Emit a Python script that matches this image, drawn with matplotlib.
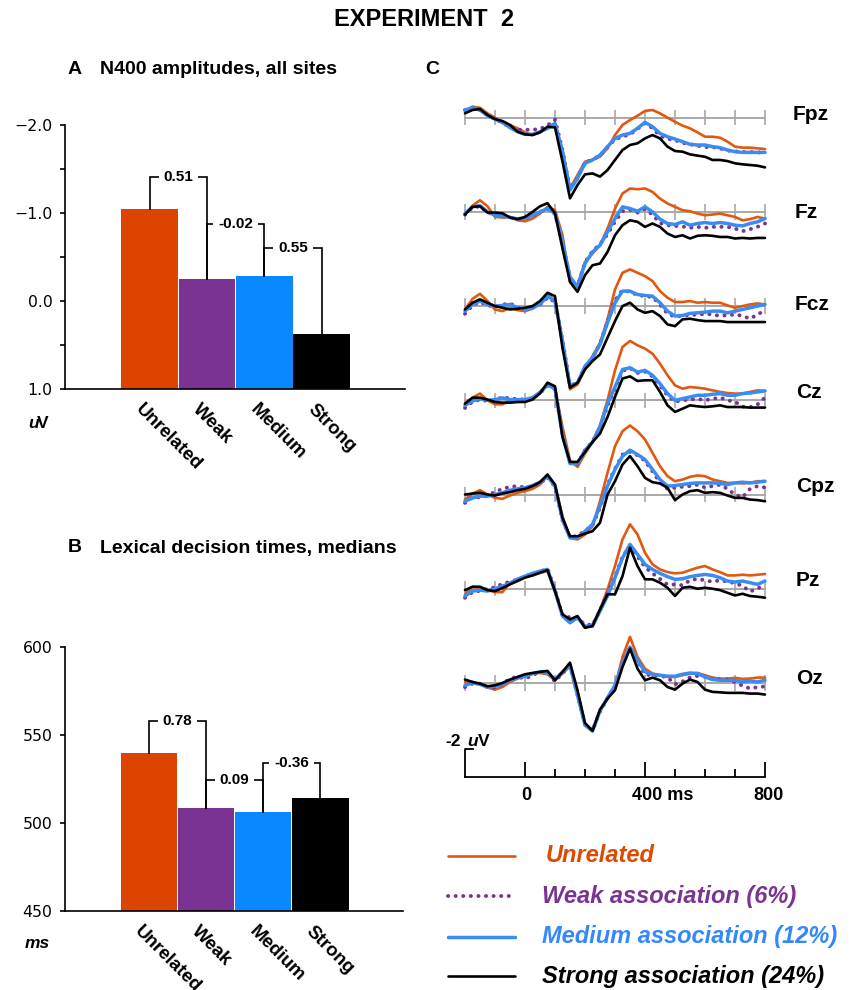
import matplotlib
matplotlib.use("Agg")
import matplotlib.pyplot as plt
from matplotlib.lines import Line2D
import numpy as np

plt.rcParams["font.family"] = ["Liberation Sans", "DejaVu Sans"]

# ---- panel A and B: bar data
CONDITIONS = ["Unrelated", "Weak", "Medium", "Strong"]
N400_AMP = [-1.05, -0.25, -0.28, 0.37]          # uV, plotted negative up
N400_DIFFS = ["0.51", "-0.02", "0.55"]
N400_TICKS = [-2.0, -1.0, 0.0, 1.0]
N400_TICK_LABELS = ["\u22122.0", "\u22121.0", "0.0", "1.0"]
RT_MEDIANS = [540, 508.5, 506, 514]             # ms
RT_DIFFS = ["0.78", "0.09", "-0.36"]
RT_TICKS = [450, 500, 550, 600]

# ---- panel C: ERP traces (uV, positive = drawn downward), sampled every 25 ms
TIMES = list(range(-200, 801, 25))
SITES = ["Fpz", "Fz", "Fcz", "Cz", "Cpz", "Pz", "Oz"]

FPZ_UNREL = [-0.48, -0.79, -0.71, -0.31, 0.0, 0.40, 0.52, 0.76, 1.05, 1.24, 1.05, 0.76, 0.52,
             2.30, 5.05, 4.10, 3.14, 3.00, 2.79, 2.19, 1.24, 0.52, 0.17, -0.14, -0.48,
             -0.55, -0.31, 0.0, 0.29, 0.57, 0.76, 1.05, 1.36, 1.36, 1.43, 1.71, 2.07, 2.14, 2.14, 2.19, 2.24]
FPZ_WEAK = [-0.55, -0.71, -0.55, -0.19, 0.10, 0.36, 0.71, 0.86, 0.86, 0.86, 0.81, 0.55, 0.14,
            2.30, 5.10, 4.30, 3.20, 3.00, 2.70, 2.10, 1.55, 1.35, 1.20, 0.80, 0.40,
            0.75, 1.30, 1.50, 1.60, 1.80, 1.90, 2.00, 2.10, 2.10, 2.20, 2.35, 2.40, 2.45, 2.45, 2.48, 2.50]
FPZ_MED = [-0.55, -0.71, -0.55, -0.14, 0.10, 0.33, 0.71, 1.0, 1.19, 1.19, 1.0, 0.76, 0.40,
           2.43, 5.17, 4.33, 3.26, 3.02, 2.67, 2.07, 1.48, 1.24, 1.12, 0.76, 0.33,
           0.64, 1.12, 1.36, 1.52, 1.71, 1.90, 1.95, 1.95, 2.07, 2.14, 2.31, 2.43, 2.48, 2.48, 2.48, 2.48]
FPZ_STRONG = [-0.31, -0.55, -0.62, -0.19, 0.10, 0.24, 0.52, 1.0, 1.19, 1.24, 1.05, 0.64, 0.70,
              3.14, 5.76, 4.81, 4.05, 3.98, 4.21, 3.74, 3.02, 2.31, 1.95, 1.83, 1.48,
              1.24, 1.48, 2.07, 2.38, 2.43, 2.62, 2.71, 2.79, 3.02, 3.02, 3.10, 3.26, 3.33, 3.38, 3.43, 3.55]

FZ_UNREL = [0.12, -0.45, -0.83, -0.40, 0.36, 0.40, 0.36, 0.60, 0.67, 0.48, 0.12, -0.36, -0.12,
            1.67, 5.00, 5.24, 3.57, 2.98, 2.38, 1.19, -0.24, -1.31, -1.67, -1.62, -1.67,
            -1.43, -0.95, -0.60, -0.36, -0.12, -0.05, 0.12, 0.24, 0.19, 0.12, 0.24, 0.36, 0.60, 0.52, 0.36, 0.48]
FZ_WEAK = [0.20, -0.30, -0.40, 0.05, 0.20, 0.30, 0.40, 0.50, 0.45, 0.24, 0.0, -0.24, 0.15,
           2.20, 4.70, 5.30, 3.60, 2.80, 2.30, 1.60, 0.70, -0.05, -0.15, 0.05, -0.20,
           0.20, 0.80, 0.95, 1.00, 1.05, 1.14, 1.07, 1.14, 1.07, 1.07, 1.07, 1.19, 1.38, 1.24, 1.07, 0.83]
FZ_MED = [0.12, -0.36, -0.45, 0.0, 0.24, 0.24, 0.40, 0.50, 0.45, 0.24, 0.0, -0.24, 0.10,
          2.14, 4.64, 5.36, 3.69, 2.86, 2.38, 1.43, 0.48, -0.36, -0.24, -0.05, -0.36,
          0.0, 0.52, 0.83, 0.90, 0.71, 0.95, 0.83, 0.76, 0.83, 0.76, 0.83, 0.95, 1.0, 0.83, 0.71, 0.48]
FZ_STRONG = [0.19, -0.36, -0.40, 0.05, 0.05, 0.10, 0.40, 0.52, 0.36, 0.0, -0.40, -0.62, 0.10,
             2.62, 5.00, 5.71, 4.52, 3.81, 3.69, 2.86, 1.67, 0.95, 0.60, 0.71, 1.07,
             0.83, 1.07, 1.55, 1.79, 1.67, 1.90, 1.71, 1.67, 1.71, 1.79, 1.79, 1.90, 1.86, 1.90, 1.86, 1.86]

FCZ_UNREL = [0.24, -0.52, -0.88, -0.36, 0.24, 0.36, 0.12, 0.29, 0.36, 0.19, -0.24, -0.83, -0.36,
             2.62, 5.95, 5.60, 4.52, 3.57, 2.62, 0.95, -1.19, -2.38, -2.62, -2.38, -2.14,
             -1.79, -1.07, -0.60, -0.29, -0.29, -0.36, -0.24, -0.29, -0.24, -0.24, -0.05, 0.12, 0.0, -0.12, -0.19, -0.12]
FCZ_WEAK = [0.55, -0.05, -0.30, -0.05, 0.05, -0.10, -0.20, 0.10, 0.20, 0.10, -0.10, -0.60, -0.30,
            2.40, 5.65, 5.50, 4.35, 3.70, 2.70, 1.10, -0.40, -1.15, -1.00, -0.80, -0.70,
            -0.65, -0.10, 0.55, 0.75, 0.70, 0.62, 0.62, 0.55, 0.60, 0.70, 0.65, 0.60, 0.70, 0.90, 0.60, 0.30]
FCZ_MED = [0.36, -0.12, -0.36, -0.12, 0.0, -0.05, -0.12, 0.12, 0.24, 0.12, -0.12, -0.71, -0.36,
           2.50, 5.71, 5.48, 4.29, 3.69, 2.74, 1.19, -0.24, -1.07, -1.07, -0.83, -0.76,
           -0.71, -0.24, 0.36, 0.71, 0.67, 0.52, 0.48, 0.43, 0.36, 0.36, 0.48, 0.36, 0.24, 0.12, 0.0, -0.12]
FCZ_STRONG = [0.24, -0.24, -0.48, -0.24, 0.0, 0.12, 0.24, 0.19, 0.12, 0.0, -0.36, -0.95, -0.71,
              3.00, 5.83, 5.48, 4.52, 3.93, 3.45, 2.26, 1.07, 0.0, -0.24, 0.24, 0.48,
              0.36, 0.71, 1.31, 1.43, 0.95, 0.90, 1.0, 1.07, 1.07, 1.07, 1.14, 1.14, 1.14, 1.14, 1.14, 1.14]

CZ_UNREL = [0.24, -0.19, -0.48, 0.0, 0.29, 0.29, 0.0, 0.12, 0.05, -0.19, -0.60, -1.14, -0.83,
            1.90, 4.29, 4.76, 3.81, 2.98, 1.79, 0.0, -2.14, -3.81, -4.24, -3.93, -3.69,
            -3.33, -2.62, -1.79, -1.07, -0.83, -0.95, -0.90, -0.83, -0.71, -0.60, -0.52, -0.48, -0.48, -0.60, -0.71, -0.67]
CZ_WEAK = [0.55, 0.10, -0.05, 0.05, 0.0, -0.24, -0.12, -0.10, -0.05, -0.15, -0.50, -1.05, -0.80,
           2.45, 4.45, 4.55, 3.55, 2.95, 1.95, 0.40, -0.80, -2.10, -2.30, -1.95, -2.05,
           -1.70, -1.05, -0.35, 0.10, 0.0, -0.05, -0.10, 0.0, -0.10, -0.20, 0.0, 0.10, 0.45, 0.50, 0.30, -0.20]
CZ_MED = [0.36, 0.05, -0.12, 0.0, -0.05, -0.17, -0.05, -0.05, -0.05, -0.19, -0.55, -1.10, -0.83,
          2.50, 4.52, 4.52, 3.57, 2.98, 1.90, 0.24, -0.95, -2.20, -2.33, -2.02, -2.14,
          -1.79, -1.19, -0.48, 0.0, -0.12, -0.24, -0.36, -0.36, -0.43, -0.48, -0.36, -0.36, -0.48, -0.52, -0.60, -0.67]
CZ_STRONG = [0.24, -0.19, -0.19, -0.05, 0.12, 0.17, 0.17, 0.12, 0.12, -0.05, -0.50, -1.26, -1.0,
             2.62, 4.40, 4.40, 3.69, 2.98, 2.38, 1.19, -0.24, -1.55, -1.71, -1.38, -1.43,
             -1.43, -0.60, 0.36, 0.83, 0.60, 0.36, 0.43, 0.48, 0.43, 0.36, 0.48, 0.48, 0.48, 0.52, 0.52, 0.52]

CPZ_UNREL = [0.36, -0.07, -0.31, 0.0, 0.24, 0.31, 0.07, -0.12, -0.24, -0.40, -0.71, -1.31, -0.60,
             1.55, 3.10, 3.21, 2.86, 2.26, 0.48, -1.55, -3.45, -4.52, -4.93, -4.52, -3.93,
             -2.98, -2.02, -1.31, -0.95, -1.07, -1.26, -1.36, -1.31, -1.07, -0.95, -0.83, -0.83, -0.79, -0.83, -0.95, -0.95]
CPZ_WEAK = [0.60, 0.20, 0.20, 0.10, -0.20, -0.40, -0.55, -0.60, -0.50, -0.60, -0.80, -1.25, -0.55,
            1.85, 3.05, 2.95, 2.60, 2.20, 0.95, -0.70, -1.85, -2.85, -3.05, -2.80, -2.40,
            -1.65, -0.85, -0.40, -0.50, -0.55, -0.60, -0.70, -0.50, -0.60, -0.70, -0.40, 0.0, 0.20, -0.40, -0.60, -0.50]
CPZ_MED = [0.48, 0.24, 0.12, 0.12, 0.0, -0.12, -0.31, -0.40, -0.48, -0.64, -0.88, -1.31, -0.60,
           1.79, 3.10, 3.10, 2.62, 2.14, 0.83, -0.60, -1.79, -2.74, -3.17, -2.86, -2.50,
           -1.79, -1.07, -0.60, -0.64, -0.71, -0.79, -0.83, -0.83, -0.83, -0.79, -0.71, -0.83, -0.88, -0.83, -0.88, -0.95]
CPZ_STRONG = [0.0, -0.07, -0.12, 0.0, 0.07, -0.07, -0.17, -0.31, -0.40, -0.60, -0.88, -1.43, -0.71,
              1.67, 2.98, 2.98, 2.79, 2.62, 2.02, 0.0, -0.95, -2.14, -2.74, -2.02, -1.19,
              -0.88, -0.79, -0.48, 0.40, 0.0, -0.24, -0.31, -0.12, -0.17, -0.12, 0.07, 0.24, 0.24, 0.36, 0.40, 0.48]

PZ_UNREL = [0.40, -0.14, -0.07, 0.10, 0.24, 0.24, -0.43, -0.71, -0.86, -0.95, -1.14, -1.26, 0.17,
            1.95, 2.43, 2.07, 2.79, 2.55, 1.48, 0.05, -1.62, -3.52, -4.60, -3.88, -2.57,
            -1.74, -1.38, -1.19, -1.10, -1.14, -1.33, -1.50, -1.62, -1.38, -1.19, -0.95, -0.95, -1.0, -0.95, -1.0, -1.05]
PZ_WEAK = [0.65, 0.25, 0.15, 0.0, -0.10, -0.35, -0.50, -0.65, -0.90, -1.05, -1.20, -1.45, 0.10,
           1.90, 2.05, 2.10, 2.55, 2.60, 1.55, 0.30, -0.85, -2.30, -3.05, -2.30, -1.55,
           -1.10, -0.70, -0.30, -0.30, -0.25, -0.60, -0.70, -0.60, -0.50, -0.60, -0.50, -0.40, -0.20, 0.20, 0.0, -0.30]
PZ_MED = [0.52, 0.17, 0.10, 0.17, 0.0, -0.19, -0.38, -0.67, -0.90, -1.10, -1.26, -1.38, 0.17,
          1.95, 2.43, 2.07, 2.67, 2.67, 1.60, 0.52, -0.79, -2.21, -3.17, -2.45, -1.74,
          -1.38, -1.10, -0.86, -0.67, -0.71, -0.86, -0.95, -1.02, -0.95, -0.79, -0.55, -0.48, -0.55, -0.43, -0.31, -0.55]
PZ_STRONG = [0.10, -0.14, -0.14, 0.10, 0.17, -0.05, -0.31, -0.55, -0.79, -0.95, -1.14, -1.33, 0.17,
             1.83, 2.19, 1.95, 2.79, 2.67, 1.48, 0.40, 0.40, -0.90, -2.93, -1.62, -0.67,
             -0.67, -0.43, -0.07, 0.52, -0.07, -0.14, 0.0, -0.07, 0.0, 0.10, 0.29, 0.48, 0.36, 0.52, 0.57, 0.64]

OZ_UNREL = [-0.07, -0.07, 0.10, 0.33, 0.48, 0.29, -0.07, -0.31, -0.48, -0.67, -0.71, -0.62, -0.19,
            -0.67, -1.19, 0.76, 2.95, 3.33, 2.00, 1.12, 0.29, -1.86, -3.29, -1.86, -1.02,
            -0.67, -0.55, -0.43, -0.43, -0.55, -0.67, -0.71, -0.55, -0.38, -0.31, -0.31, -0.36, -0.29, -0.31, -0.38, -0.38]
OZ_WEAK = [0.30, 0.05, 0.05, 0.30, 0.35, 0.05, -0.30, -0.45, -0.30, -0.55, -0.80, -0.75, -0.10,
           -0.70, -1.20, 0.85, 3.00, 3.40, 2.05, 1.10, 0.25, -1.40, -2.55, -1.55, -0.60,
           -0.55, -0.50, -0.40, 0.10, -0.10, -0.40, -0.50, -0.45, -0.30, -0.25, -0.25, -0.05, 0.20, 0.40, 0.30, 0.25]
OZ_MED = [0.17, 0.0, 0.10, 0.29, 0.24, 0.10, -0.19, -0.38, -0.48, -0.67, -0.79, -0.71, -0.24,
          -0.79, -1.26, 0.88, 3.02, 3.43, 2.00, 1.05, 0.17, -1.38, -2.57, -1.62, -0.79,
          -0.62, -0.55, -0.48, -0.48, -0.62, -0.71, -0.67, -0.43, -0.24, -0.19, -0.19, -0.19, -0.07, -0.14, -0.07, -0.19]
OZ_STRONG = [-0.24, -0.07, 0.05, 0.24, 0.17, 0.0, -0.24, -0.43, -0.62, -0.71, -0.79, -0.86, -0.19,
             -0.79, -1.45, 0.52, 2.86, 3.43, 1.90, 1.12, 0.52, -1.14, -2.45, -1.02, -0.19,
             -0.38, -0.19, 0.29, 0.48, 0.05, -0.24, -0.07, 0.48, 0.64, 0.67, 0.71, 0.71, 0.71, 0.76, 0.76, 0.83]

ERP = {
    "Fpz": [FPZ_UNREL, FPZ_WEAK, FPZ_MED, FPZ_STRONG],
    "Fz": [FZ_UNREL, FZ_WEAK, FZ_MED, FZ_STRONG],
    "Fcz": [FCZ_UNREL, FCZ_WEAK, FCZ_MED, FCZ_STRONG],
    "Cz": [CZ_UNREL, CZ_WEAK, CZ_MED, CZ_STRONG],
    "Cpz": [CPZ_UNREL, CPZ_WEAK, CPZ_MED, CPZ_STRONG],
    "Pz": [PZ_UNREL, PZ_WEAK, PZ_MED, PZ_STRONG],
    "Oz": [OZ_UNREL, OZ_WEAK, OZ_MED, OZ_STRONG],
}

LEGEND_LABELS = ["Unrelated", "Weak association (6%)", "Medium association (12%)",
                 "Strong association (24%)"]

BAR_COLORS = ["#DD4400", "#7B3393", "#0A88FF", "#000000"]
LINE_COLORS = ["#E2580F", "#7B3393", "#3A8CF5", "#000000"]
TEXT_COLORS = ["#DD4A00", "#7B3393", "#3388FF", "#000000"]

W, H = 857, 990


def fig_rect(left, top, right, bottom):
    # pixel box -> figure fraction
    return [left / W, 1 - bottom / H, (right - left) / W, (bottom - top) / H]


def bracket(ax, x0, x1, y0, y1, h, label):
    ax.plot([x0, x0, x1, x1], [y0, h, h, y1], color="black", lw=1.2,
            solid_joinstyle="miter", clip_on=False, zorder=3)
    ax.text((x0 + x1) / 2, h, label, ha="center", va="center", fontsize=11,
            fontweight="bold", zorder=4,
            bbox=dict(facecolor="white", edgecolor="none", pad=3.5))


def bar_panel(ax, values, bottom, ticks, labels, diffs, heights):
    x = np.arange(len(CONDITIONS))
    ax.bar(x, [v - bottom for v in values], bottom=bottom, width=0.99,
           color=BAR_COLORS, edgecolor="none", zorder=2)
    for i, (lab, h) in enumerate(zip(diffs, heights)):
        bracket(ax, x[i], x[i + 1], values[i], values[i + 1], h, lab)
    ax.set_xlim(-1.475, 4.45)
    ax.set_xticks([])
    ax.set_yticks(ticks)
    ax.set_yticklabels(labels)
    for s in ("top", "right"):
        ax.spines[s].set_visible(False)
    for s in ("left", "bottom"):
        ax.spines[s].set_linewidth(1.2)
    ax.tick_params(axis="y", length=3.5, width=1.2, pad=5.5, labelsize=11.3,
                   labelfontfamily="DejaVu Sans")
    ax.tick_params(axis="y", which="minor", length=3.5, width=1.2)
    for i, name in enumerate(CONDITIONS):
        ax.text(x[i] - 0.1, -0.045, name, transform=ax.get_xaxis_transform(),
                rotation=-45, rotation_mode="anchor", ha="left", va="top",
                fontsize=13.5, fontweight="bold")


fig = plt.figure(figsize=(W / 100, H / 100), dpi=100)

# panel A
ax_a = fig.add_axes(fig_rect(65, 125, 405, 389))
bar_panel(ax_a, N400_AMP, 1.0, N400_TICKS, N400_TICK_LABELS, N400_DIFFS, [-1.41, -0.88, -0.60])
ax_a.set_ylim(1.0, -2.0)
ax_a.set_yticks([-1.5, -0.5, 0.5], minor=True)

# panel B
ax_b = fig.add_axes(fig_rect(65, 647, 403, 911))
bar_panel(ax_b, RT_MEDIANS, 0.0, RT_TICKS, [str(t) for t in RT_TICKS], RT_DIFFS, [558, 524.6, 534.2])
ax_b.set_ylim(450, 600)

# panel C
ROW = 94.2 / 14.0          # uV between stacked sites (14 px per uV)
ax_c = fig.add_axes(fig_rect(465, 95, 765, 777))
ax_c.set_xlim(-200, 800)
ax_c.set_ylim(47.09, -1.62)
ax_c.set_axis_off()
grid_t = list(range(-200, 801, 100))
styles = [dict(lw=1.9, ls="-", solid_joinstyle="round", solid_capstyle="round"),
          dict(lw=2.8, ls=(0, (0.05, 1.9)), dash_capstyle="round"),
          dict(lw=2.5, ls="-", solid_joinstyle="round", solid_capstyle="round"),
          dict(lw=1.9, ls="-", solid_joinstyle="round", solid_capstyle="round")]
for k, site in enumerate(SITES):
    off = k * ROW
    ax_c.plot([-200, 800], [off, off], color="#A8A8A8", lw=1.4, clip_on=False, zorder=1)
    ax_c.vlines(grid_t, off - 0.55, off + 0.55, color="#A8A8A8", lw=1.2, clip_on=False, zorder=1)
    for c in range(4):
        ax_c.plot(TIMES, off + np.array(ERP[site][c]), color=LINE_COLORS[c],
                  clip_on=False, zorder=2 + c, **styles[c])

# time scale at the bottom
base = 7 * ROW
ax_c.plot([-200, 800], [base, base], color="black", lw=1.3, clip_on=False)
ax_c.vlines([0, 400, 800], base, base - 1.07, color="black", lw=1.3, clip_on=False)
ax_c.vlines([100, 200, 300, 500, 600, 700], base, base - 0.55, color="black", lw=1.3, clip_on=False)
ax_c.plot([-174, -200, -200], [base - 2, base - 2, base], color="black", lw=1.3, clip_on=False)

# overlay in pixel coordinates for free text and legend
ov = fig.add_axes([0, 0, 1, 1], zorder=10)
ov.set_xlim(0, W)
ov.set_ylim(H, 0)
ov.set_axis_off()
ov.patch.set_visible(False)

ov.text(424, 20, "EXPERIMENT  2", ha="center", va="center", fontsize=17, fontweight="bold")
ov.text(68, 70, "A", ha="left", va="center", fontsize=14, fontweight="bold")
ov.text(100, 70, "N400 amplitudes, all sites", ha="left", va="center", fontsize=14, fontweight="bold")
ov.text(68, 548, "B", ha="left", va="center", fontsize=14, fontweight="bold")
ov.text(100, 548, "Lexical decision times, medians", ha="left", va="center", fontsize=14, fontweight="bold")
ov.text(425, 69, "C", ha="left", va="center", fontsize=14, fontweight="bold")
ov.text(28, 423, "u", ha="left", va="center", fontsize=12.5, fontweight="bold", style="italic")
ov.text(37, 423, "V", ha="left", va="center", fontsize=12.5, fontweight="bold")
ov.text(25, 943, "ms", ha="left", va="center", fontsize=12.5, fontweight="bold", style="italic")

site_pos = [(793, 115), (795, 212), (795, 305), (796, 393), (796, 487), (796, 580), (796, 678)]
for site, (px, py) in zip(SITES, site_pos):
    ov.text(px, py, site, ha="left", va="center", fontsize=15, fontweight="bold")

ov.text(445, 742, "-2", ha="left", va="center", fontsize=12.5, fontweight="bold")
ov.text(467, 742, "u", ha="left", va="center", fontsize=12.5, fontweight="bold", style="italic")
ov.text(478, 742, "V", ha="left", va="center", fontsize=12.5, fontweight="bold")
ov.text(526, 796, "0", ha="center", va="center", fontsize=13, fontweight="bold")
ov.text(632, 796, "400 ms", ha="left", va="center", fontsize=13, fontweight="bold")
ov.text(769, 796, "800", ha="center", va="center", fontsize=13, fontweight="bold")

leg_y = [856, 896, 937, 976]
leg_x = [546, 542, 542, 542]
for c in range(4):
    ov.add_line(Line2D([448, 515], [leg_y[c], leg_y[c]], color=LINE_COLORS[c], **styles[c]))
    ov.text(leg_x[c], leg_y[c], LEGEND_LABELS[c], ha="left", va="center", fontsize=17,
            fontweight="bold", style="italic", color=TEXT_COLORS[c])

fig.savefig("out.png", dpi=100)
